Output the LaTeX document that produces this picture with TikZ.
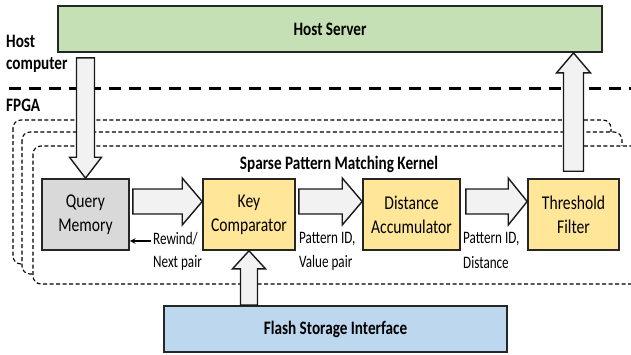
\documentclass[tikz,border=0pt]{standalone}
\usepackage{fontspec}
\setmainfont{Carlito}[FakeStretch=0.8]
\newfontfamily\narrowfont{Carlito}[FakeStretch=0.75]
\usetikzlibrary{calc}
\definecolor{hostgreen}{HTML}{C5E0B4}
\definecolor{querygray}{HTML}{D9D9D9}
\definecolor{unityellow}{HTML}{FFE699}
\definecolor{flashblue}{HTML}{BDD7EE}
\definecolor{arrowgray}{HTML}{F2F2F2}
\begin{document}
\begin{tikzpicture}[x=1pt,y=-1pt,
    block/.style={draw=black!85, line width=1.6pt, inner sep=0pt, align=center,
        font=\fontsize{19.5}{24}\selectfont},
    unit/.style={block, fill=unityellow, minimum height=71pt},
    bigarrow/.style={draw=black!90, line width=1.4pt, fill=arrowgray, line join=miter},
    kernelbox/.style={draw=black, line width=1.1pt, dash pattern=on 4pt off 2.5pt,
        fill=white, rounded corners=8pt},
    boldlabel/.style={font=\fontsize{19}{22}\selectfont\bfseries, inner sep=0pt},
    smalllabel/.style={font=\narrowfont\fontsize{17.5}{24}\selectfont, inner sep=0pt, anchor=west}]
    \useasboundingbox (0,0) rectangle (631,354);

    % host side
    \node[block, fill=hostgreen, line width=1.8pt, minimum width=544pt, minimum height=46pt,
        font=\fontsize{19}{22}\selectfont\bfseries] (hs) at (330,29) {Host Server};
    \node[boldlabel, align=left, anchor=west] (hc) at (6,54) {Host\\computer};
    \draw[line width=3pt, dash pattern=on 12pt off 8pt] (9,88) -- (631,88);
    \node[boldlabel, anchor=west] (fpga) at (6,105) {FPGA};

    % kernel copies, back to front
    \draw[kernelbox] (13,120) rectangle (611,264);
    \draw[kernelbox] (22,132) rectangle (622,274);
    \draw[kernelbox] (33,146) rectangle (640,284);
    \node[boldlabel] (kn) at (339,164) {Sparse Pattern Matching Kernel};

    % units
    \node[block, fill=querygray, minimum width=87pt, minimum height=71pt] (qm) at (85.5,214.5) {Query\\Memory};
    \node[unit, minimum width=92pt] (kc) at (249,214.5) {Key\\Comparator};
    \node[unit, minimum width=97pt] (da) at (411.5,214.5) {Distance\\Accumulator};
    \node[unit, minimum width=91pt] (tf) at (573.5,214.5) {Threshold\\Filter};
    \node[block, fill=flashblue, line width=1.8pt, minimum width=343pt, minimum height=46pt,
        font=\fontsize{19}{22}\selectfont\bfseries] (fs) at (335.5,329) {Flash Storage Interface};

    % wide arrows
    \draw[bigarrow] ($(hs.south -| qm.north)+(-9,5)$) -- ($(qm.north)+(-9,-21)$) -- ($(qm.north)+(-16,-21)$)
        -- (qm.north) -- ($(qm.north)+(16,-21)$) -- ($(qm.north)+(9,-21)$) -- ($(hs.south -| qm.north)+(9,5)$) -- cycle;
    \draw[bigarrow] ($(qm.east)+(3,-25.5)$) -- ($(kc.west)+(-20,-25.5)$) -- ($(kc.west)+(-20,-36.5)$)
        -- ($(kc.west)+(0,-13)$) -- ($(kc.west)+(-20,10.5)$) -- ($(kc.west)+(-20,-0.5)$) -- ($(qm.east)+(3,-0.5)$) -- cycle;
    \draw[bigarrow] ($(kc.east)+(3,-25.5)$) -- ($(da.west)+(-20,-25.5)$) -- ($(da.west)+(-20,-36.5)$)
        -- ($(da.west)+(0,-13)$) -- ($(da.west)+(-20,10.5)$) -- ($(da.west)+(-20,-0.5)$) -- ($(kc.east)+(3,-0.5)$) -- cycle;
    \draw[bigarrow] ($(da.east)+(5,-25.5)$) -- ($(tf.west)+(-19,-25.5)$) -- ($(tf.west)+(-19,-36.5)$)
        -- ($(tf.west)+(0,-13)$) -- ($(tf.west)+(-19,10.5)$) -- ($(tf.west)+(-19,-0.5)$) -- ($(da.east)+(5,-0.5)$) -- cycle;
    \draw[bigarrow] ($(tf.north)+(-10,-7)$) -- ($(tf.north |- hs.south)+(-10,20)$) -- ($(tf.north |- hs.south)+(-17,20)$)
        -- (tf.north |- hs.south) -- ($(tf.north |- hs.south)+(17,20)$) -- ($(tf.north |- hs.south)+(10,20)$) -- ($(tf.north)+(10,-7)$) -- cycle;
    \draw[bigarrow] ($(kc.south |- fs.north)+(-8.5,0)$) -- ($(kc.south)+(-8.5,18)$) -- ($(kc.south)+(-16.5,18)$)
        -- (kc.south) -- ($(kc.south)+(16.5,18)$) -- ($(kc.south)+(8.5,18)$) -- ($(kc.south |- fs.north)+(8.5,0)$) -- cycle;

    % labels
    \node[smalllabel] (rw) at (153,239) {Rewind/};
    \node[smalllabel] (np) at (153,263) {Next pair};
    \node[smalllabel] (pv) at (299,239) {Pattern ID,};
    \node[smalllabel] (vp) at (299,263) {Value pair};
    \node[smalllabel] (pd) at (463,239) {Pattern ID,};
    \node[smalllabel] (dd) at (463,263) {Distance};
    \draw[-stealth, line width=1.5pt] ($(rw.west)+(-2,2)$) -- ($(qm.east |- rw.west)+(0,2)$);
\end{tikzpicture}
\end{document}
